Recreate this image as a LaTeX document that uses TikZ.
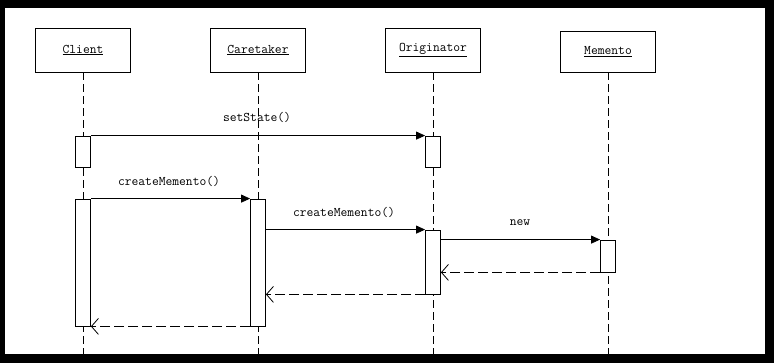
\documentclass[tikz,border=0pt]{standalone}
\usepackage{fontspec}
\usetikzlibrary{arrows.meta}
\begin{document}
\begin{tikzpicture}[x=1pt,y=-1pt,
 obj/.style={draw,line width=0.8pt,fill=white,minimum width=95pt,minimum height=44pt,inner sep=0pt,font=\ttfamily\fontsize{13.2}{14}\selectfont},
 act/.style={draw,line width=0.8pt,fill=white,minimum width=15pt,inner sep=0pt},
 life/.style={line width=0.8pt,dash pattern=on 8pt off 4pt},
 msg/.style={line width=0.8pt,-{Triangle[length=9pt,width=8pt]}},
 ret/.style={line width=0.8pt,dash pattern=on 10pt off 4pt,-{Straight Barb[length=7pt,width=16pt]}},
 lbl/.style={font=\ttfamily\fontsize{13.2}{14}\selectfont,inner sep=1pt}
]
\useasboundingbox (0,0) rectangle (774,363);
\fill[black] (0,0) rectangle (774,363);
\fill[white] (5,8) rectangle (765,354);

\node[obj] (client) at (83,50) {\underline{Client}};
\node[obj] (caretaker) at (258,50) {\underline{Caretaker}};
\node[obj] (originator) at (433,50) {\underline{Originator}};
\node[obj,minimum height=41pt] (memento) at (608,51.5) {\underline{Memento}};

\coordinate (clientEnd) at (83,354);
\coordinate (caretakerEnd) at (258,354);
\coordinate (originatorEnd) at (433,354);
\coordinate (mementoEnd) at (608,354);
\draw[life] (client.south) -- (clientEnd);
\draw[life] (caretaker.south) -- (caretakerEnd);
\draw[life] (originator.south) -- (originatorEnd);
\draw[life] (memento.south) -- (mementoEnd);

\node[act,minimum height=31pt] (ca1) at (83,151.5) {};
\node[act,minimum height=31pt] (oa1) at (433,151.5) {};
\node[act,minimum height=127pt] (ca2) at (83,262.5) {};
\node[act,minimum height=127pt] (ka) at (258,262.5) {};
\node[act,minimum height=64pt] (oa2) at (433,262) {};
\node[act,minimum height=32pt] (ma) at (608,256) {};

\draw[msg] (ca1.north east) -- (oa1.north west);
\draw[msg] (ca2.north east) -- (ka.north west);
\draw[msg] (ka.east |- oa2.north) -- (oa2.north west);
\draw[msg] (oa2.east |- ma.north) -- (ma.north west);

\draw[ret] (ma.south west) -- (oa2.east |- ma.south);
\draw[ret] (oa2.south west) -- (ka.east |- oa2.south);
\draw[ret] (ka.south west) -- (ca2.south east);

\node[lbl] (l1) at (257,117) {setState()};
\node[lbl] (l2) at (169,181) {createMemento()};
\node[lbl] (l3) at (344,212) {createMemento()};
\node[lbl] (l4) at (520,223) {new};
\end{tikzpicture}
\end{document}
